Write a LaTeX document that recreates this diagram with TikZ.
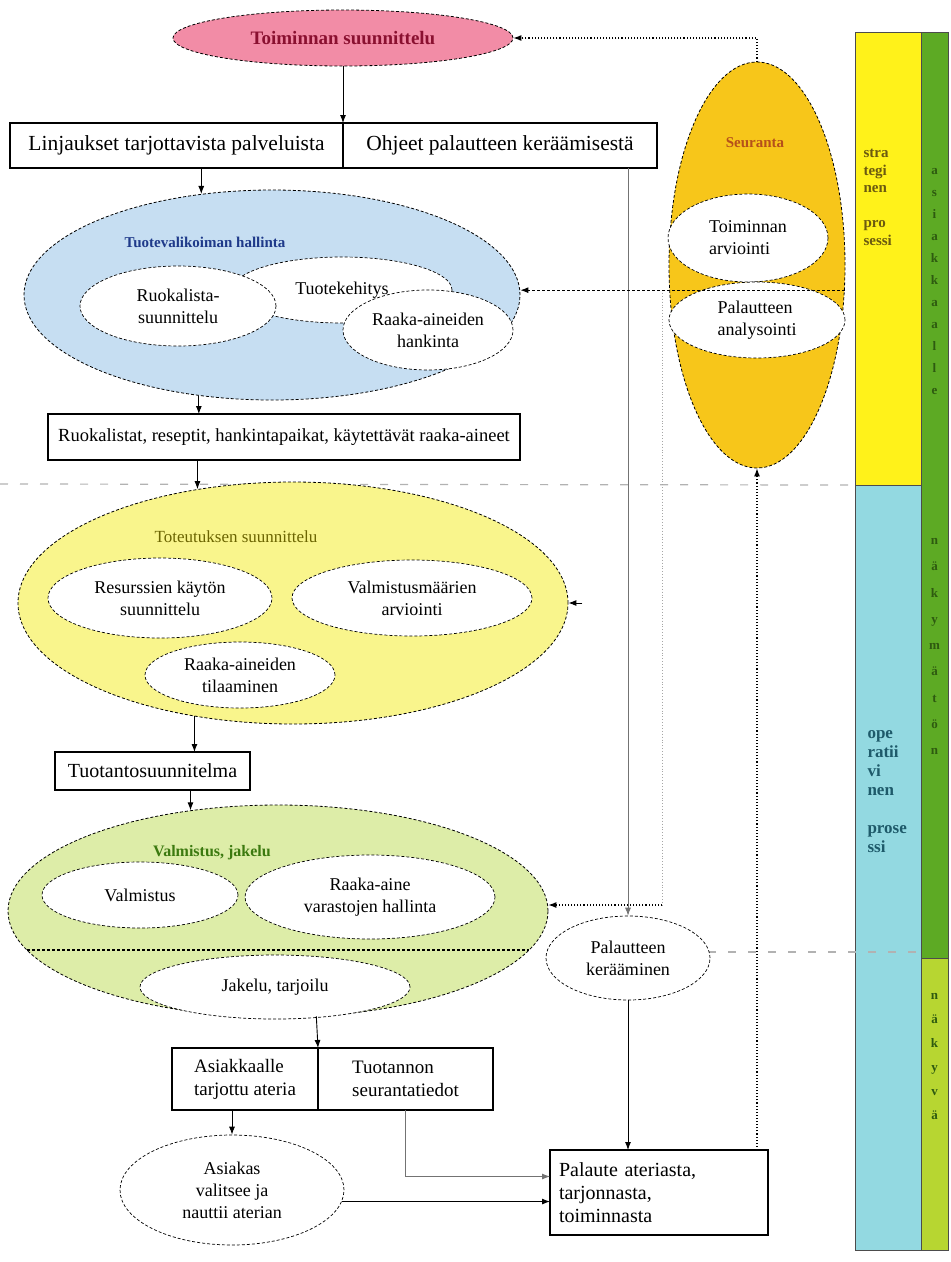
\documentclass[tikz,border=0pt]{standalone}
\usepackage{fontspec}
\setmainfont{Liberation Serif}
\usetikzlibrary{shapes,arrows,arrows.meta,positioning,calc}
\definecolor{pinkfill}{HTML}{F28CA6}
\definecolor{bluefill}{HTML}{C6DEF2}
\definecolor{yellowfill}{HTML}{F9F58C}
\definecolor{greenfill}{HTML}{DDEDA8}
\definecolor{goldfill}{HTML}{F7C61A}
\definecolor{yellowbar}{HTML}{FFF21A}
\definecolor{cyanbar}{HTML}{93D9E1}
\definecolor{darkgreenbar}{HTML}{5DAA24}
\definecolor{lightgreenbar}{HTML}{B7D631}
\definecolor{pinktext}{HTML}{8A1030}
\definecolor{bluetext}{HTML}{1F3A8A}
\definecolor{olivetext}{HTML}{6B6400}
\definecolor{greentext}{HTML}{3C7A10}
\definecolor{orangetext}{HTML}{B5501A}
\definecolor{strattext}{HTML}{6B5A10}
\definecolor{opertext}{HTML}{1E5A6A}
\definecolor{bartext}{HTML}{2E5A10}
\tikzstyle{bigell} = [ellipse, draw, densely dashed, line width=0.8pt, inner sep=0pt]
\tikzstyle{subell} = [ellipse, draw, densely dashed, line width=0.7pt, fill=white, inner sep=0pt, align=center, font=\fontsize{18}{22}\selectfont]
\tikzstyle{box} = [rectangle, draw, line width=1.4pt, inner sep=4pt, outer sep=0pt, font=\fontsize{19}{23}\selectfont]
\tikzstyle{headtext} = [font=\fontsize{17}{21}\selectfont]
\tikzstyle{bar} = [rectangle, draw=black!70, line width=0.8pt, anchor=north west, inner sep=0pt, outer sep=0pt]
\tikzstyle{line} = [draw, line width=0.9pt, -{Latex[length=8pt, width=6pt]}]
\tikzstyle{thinline} = [draw, black!55, line width=0.8pt, -{Latex[length=8pt, width=6pt]}]
\tikzstyle{dotline} = [draw, dotted, line width=1.1pt, -{Latex[length=8pt, width=6pt]}]
\tikzstyle{dashline} = [draw, densely dashed, line width=1pt, -{Latex[length=8pt, width=6pt]}]
\tikzstyle{faintdot} = [draw, black!35, dotted, line width=0.9pt]
\tikzstyle{sepline} = [draw, black!30, dash pattern=on 8pt off 12pt, line width=1.2pt]

\begin{document}
\begin{tikzpicture}[x=1pt, y=-1pt]
		\useasboundingbox (0,0) rectangle (951,1262);
		% Bars
		\node[bar, fill=yellowbar, minimum width=66pt, minimum height=453pt] (StratBar) at (855,32) {};
		\node[bar, fill=cyanbar, minimum width=66pt, minimum height=765pt] (OperBar) at (855,485) {};
		\node[bar, fill=darkgreenbar, minimum width=27pt, minimum height=926pt] (AsiakBar) at (921,32) {};
		\node[bar, fill=lightgreenbar, minimum width=27pt, minimum height=292pt] (NakyvaBar) at (921,958) {};
		\node[anchor=north west, align=left, text=strattext, font=\fontsize{15}{17.5}\selectfont\bfseries] (StratText) at (860,146) {stra\\tegi\\nen\\[17.5pt]pro\\sessi};
		\node[anchor=north west, align=left, text=opertext, font=\fontsize{17}{19}\selectfont\bfseries] (OperText) at (864,727) {ope\\ratii\\vi\\nen\\[19pt]prose\\ssi};
		\node[anchor=north, align=center, text=bartext, font=\fontsize{13}{22}\selectfont\bfseries] (AsiakText) at (934.5,165) {a\\s\\i\\a\\k\\k\\a\\a\\l\\l\\e};
		\node[anchor=north, align=center, text=bartext, font=\fontsize{13}{26.25}\selectfont\bfseries] (NakymText) at (934.5,535) {n\\ä\\k\\y\\m\\ä\\t\\ö\\n};
		\node[anchor=north, align=center, text=bartext, font=\fontsize{13}{24}\selectfont\bfseries] (NakyvaText) at (934.5,990) {n\\ä\\k\\y\\v\\ä};

		% Separators
		\path[sepline] (0,484) -- (StratBar.south west);
		\path[sepline] (548,952) -- (OperBar.east |- 0,952);

		% Planning
		\node[bigell, fill=pinkfill, minimum width=340pt, minimum height=56pt, text=pinktext, font=\fontsize{19}{22}\selectfont\bfseries] (Toiminta) at (343,38) {Toiminnan suunnittelu};
		\node[box, minimum width=333pt, minimum height=45pt, font=\fontsize{21.5}{24}\selectfont, anchor=north west] (LinjBox) at (10,123) {Linjaukset tarjottavista palveluista};
		\node[box, minimum width=314pt, minimum height=45pt, font=\fontsize{21.5}{24}\selectfont, right=0pt of LinjBox] (OhjeBox) {Ohjeet palautteen keräämisestä};

		% Product range
		\node[bigell, fill=bluefill, minimum width=496pt, minimum height=210pt] (Tuote) at (272,295) {};
		\node[subell, minimum width=220pt, minimum height=66pt] (Kehitys) at (342,290) {Tuotekehitys};
		\node[subell, minimum width=196pt, minimum height=80pt] (Ruokalista) at (178,306) {Ruokalista-\\suunnittelu};
		\node[subell, minimum width=170pt, minimum height=80pt] (Hankinta) at (428,330) {Raaka-aineiden\\hankinta};
		\node[headtext, text=bluetext, font=\fontsize{15}{19}\selectfont\bfseries] (TuoteTitle) at (205,242) {Tuotevalikoiman hallinta};
		\node[box, minimum width=472pt, minimum height=46pt, font=\fontsize{18.5}{22}\selectfont, anchor=north west] (RuokaBox) at (48,414) {Ruokalistat, reseptit, hankintapaikat, käytettävät raaka-aineet};

		% Implementation planning
		\node[bigell, fill=yellowfill, minimum width=550pt, minimum height=242pt] (Toteutus) at (293,603) {};
		\node[subell, minimum width=224pt, minimum height=80pt] (Resurssi) at (160,598) {Resurssien käytön\\suunnittelu};
		\node[subell, minimum width=240pt, minimum height=76pt] (Maarat) at (412,598) {Valmistusmäärien\\arviointi};
		\node[subell, minimum width=190pt, minimum height=66pt] (Tilaus) at (240,675) {Raaka-aineiden\\tilaaminen};
		\node[headtext, text=olivetext] (ToteutusTitle) at (236,537) {Toteutuksen suunnittelu};
		\node[box, minimum width=195pt, minimum height=38pt, font=\fontsize{20}{23}\selectfont, anchor=north west] (TuotantoBox) at (55,752) {Tuotantosuunnitelma};

		% Production and distribution
		\node[bigell, fill=greenfill, minimum width=540pt, minimum height=212pt] (Valmistus) at (278,911) {};
		\path[draw, densely dashed, line width=1.1pt] (27,950) -- (529,950);
		\node[subell, minimum width=196pt, minimum height=66pt] (Valm) at (140,895) {Valmistus};
		\node[subell, minimum width=250pt, minimum height=84pt] (Varasto) at (370,897) {Raaka-aine\\varastojen hallinta};
		\node[subell, minimum width=270pt, minimum height=64pt] (Jakelu) at (275,987) {Jakelu, tarjoilu};
		\node[headtext, text=greentext, font=\fontsize{16}{20}\selectfont\bfseries] (ValmTitle) at (212,853) {Valmistus, jakelu};

		% Customer
		\node[box, minimum width=146pt, minimum height=62pt, align=left, anchor=north west] (AsiakBox) at (172,1048) {Asiakkaalle\\tarjottu ateria};
		\node[box, minimum width=175pt, minimum height=62pt, align=left, right=0pt of AsiakBox] (TuotBox) {Tuotannon\\seurantatiedot};
		\node[subell, minimum width=224pt, minimum height=110pt] (Asiakas) at (232,1190) {Asiakas\\valitsee ja\\nauttii aterian};
		\node[box, minimum width=218pt, minimum height=85pt, align=left, text width=200pt, anchor=north west, font=\fontsize{20}{23}\selectfont] (Palaute) at (550,1150) {Palaute ateriasta,\\tarjonnasta,\\toiminnasta};

		% Follow-up
		\node[bigell, fill=goldfill, minimum width=176pt, minimum height=406pt] (Seuranta) at (757,265) {};
		\node[subell, align=left, minimum width=160pt, minimum height=88pt] (Arviointi) at (748,238) {Toiminnan\\arviointi};
		\node[subell, align=left, minimum width=176pt, minimum height=76pt] (Analyysi) at (757,320) {Palautteen\\analysointi};
		\node[text=orangetext, font=\fontsize{15}{18}\selectfont\bfseries] (SeurTitle) at (755,143) {Seuranta};
		\node[subell, minimum width=164pt, minimum height=84pt] (Kerays) at (628,958) {Palautteen\\kerääminen};

		% Paths
		\path [line] (Toiminta.south) -- (LinjBox.north east);
		\path [line] (LinjBox.south -| Tuote.125.6) -- (Tuote.125.6);
		\path [line] (Tuote.234.4) -- (Tuote.234.4 |- RuokaBox.north);
		\path [line] (RuokaBox.south -| Toteutus.130.25) -- (Toteutus.130.25);
		\path [line] (Toteutus.229.45) -- (Toteutus.229.45 |- TuotantoBox.north);
		\path [line] (TuotantoBox.south -| Valmistus.131.3) -- (Valmistus.131.3);
		\path [line] (Valmistus.290.9) -- (AsiakBox.north east);
		\path [line] (AsiakBox.south -| Asiakas.north) -- (Asiakas.north);
		\path [thinline] (TuotBox.south) |- ($(Palaute.west)+(0,-16)$);
		\path [line] (Asiakas.-6.8) -- (Asiakas.-6.8 -| Palaute.west);
		\path [thinline] (OhjeBox.south -| Kerays.north) -- (Kerays.north);
		\path [line] (Kerays.south) -- (Kerays.south |- Palaute.north);
		\path [line] ([xshift=14pt]Toteutus.east) -- (Toteutus.east);

		% Feedback loops
		\coordinate (SplitTop) at (662,290);
		\coordinate (SplitBot) at (662,905);
		\path [faintdot] (SplitTop) -- (SplitBot);
		\path [dotline] (SplitBot) -- (SplitBot -| Valmistus.east);
		\path [dashline] (Seuranta.-16) -- (Seuranta.-16 -| Tuote.east);
		\path [dotline] (Seuranta.south |- Palaute.north) -- (Seuranta.south);
		\path [dotline] (Seuranta.north) |- (Toiminta.east);
	\end{tikzpicture}
\end{document}
